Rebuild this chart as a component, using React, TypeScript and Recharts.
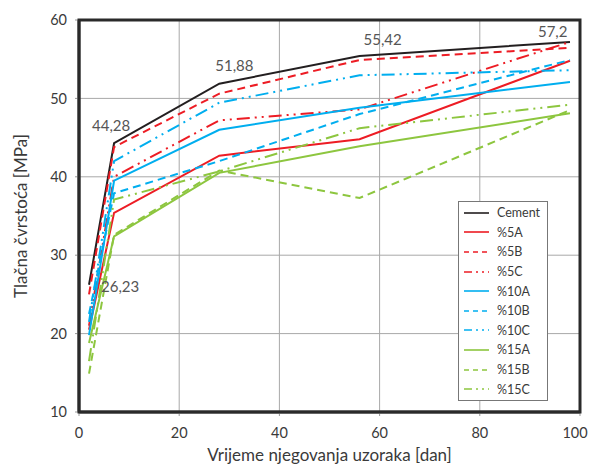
import React from 'react';
import {
  LineChart, Line, XAxis, YAxis, CartesianGrid, LabelList, Label
} from 'recharts';

// curing age in days
const days = [2, 7, 28, 56, 98];

const cement = [26.23, 44.28, 51.88, 55.42, 57.2];
const s5A = [20.5, 35.4, 42.7, 44.8, 54.8];
const s5B = [25.0, 43.8, 50.6, 54.9, 56.45];
const s5C = [21.0, 40.0, 47.2, 48.6, 57.2];
const s10A = [19.8, 39.5, 46.0, 48.8, 52.1];
const s10B = [22.5, 37.9, 42.0, 48.0, 54.9];
const s10C = [21.5, 42.0, 49.45, 52.95, 53.6];
const s15A = [18.8, 32.4, 40.5, 43.9, 48.1];
const s15B = [14.9, 32.6, 40.8, 37.3, 48.5];
const s15C = [16.5, 37.1, 40.7, 46.2, 49.2];

const xTicks = [0, 20, 40, 60, 80, 100];
const yTicks = [10, 20, 30, 40, 50, 60];

const RED = '#ed1c24';
const BLUE = '#00aeef';
const GREEN = '#8dc63f';
const DASH = '8 5';
const DASHDOT = '13 5 2 5 2 5';

const series = [
  { key: 'cement', name: 'Cement', values: cement, color: '#231f20', dash: undefined },
  { key: 's5A', name: '%5A', values: s5A, color: RED, dash: undefined },
  { key: 's5B', name: '%5B', values: s5B, color: RED, dash: DASH },
  { key: 's5C', name: '%5C', values: s5C, color: RED, dash: DASHDOT },
  { key: 's10A', name: '%10A', values: s10A, color: BLUE, dash: undefined },
  { key: 's10B', name: '%10B', values: s10B, color: BLUE, dash: DASH },
  { key: 's10C', name: '%10C', values: s10C, color: BLUE, dash: DASHDOT },
  { key: 's15A', name: '%15A', values: s15A, color: GREEN, dash: undefined },
  { key: 's15B', name: '%15B', values: s15B, color: GREEN, dash: DASH },
  { key: 's15C', name: '%15C', values: s15C, color: GREEN, dash: DASHDOT },
];

const data = days.map((d, i) => {
  const row: Record<string, number> = { day: d };
  series.forEach((s) => { row[s.key] = s.values[i]; });
  return row;
});

const FONT = 'Lato, "Open Sans", sans-serif';
const TEXT = '#3a3a3a';
const FRAME = '#2a2a2a';

// offsets of the cement value labels, one per point
const labelOffsets = [
  { dx: 12, dy: 7 },
  { dx: -22, dy: -12 },
  { dx: -4, dy: -13 },
  { dx: 4, dy: -11 },
  { dx: -32, dy: -5 },
];

const CementLabel = (props: any) => {
  const { x, y, value, index } = props;
  const o = labelOffsets[index];
  return (
    <text x={x + o.dx} y={y + o.dy} fill="#555" fontSize={15} fontFamily={FONT} textAnchor="start">
      {String(value).replace('.', ',')}
    </text>
  );
};

const XTick = (props: any) => {
  const { x, y, payload } = props;
  const shift = payload.value === 100 ? -4 : 0;
  return (
    <text x={x + shift} y={y + 10} fill={TEXT} fontSize={14.5} fontFamily={FONT} textAnchor="middle">
      {payload.value}
    </text>
  );
};

const LegendBox = () => (
  <div style={{
    position: 'absolute', left: 458, top: 201, width: 88, zIndex: 3,
    border: '1px solid #777', background: '#fff', padding: '1px 0 1px 0',
    fontFamily: FONT, fontSize: 12.5, color: TEXT,
  }}>
    {series.map((s) => (
      <div key={s.key} style={{ display: 'flex', alignItems: 'center', height: 19.6 }}>
        <svg width={34} height={10} style={{ marginLeft: 4 }}>
          <line x1={1} y1={5} x2={26} y2={5} stroke={s.color} strokeWidth={1.6}
            strokeDasharray={s.dash ? (s.dash === DASH ? '5 4' : '8 4 2 4 2 4') : undefined} />
        </svg>
        <span>{s.name}</span>
      </div>
    ))}
  </div>
);

export default function App() {
  return (
    <div style={{ position: 'absolute', left: 0, top: 0, width: 591, height: 473, background: '#fff' }}>
      <LineChart width={591} height={473} data={data} margin={{ top: 20, right: 11, left: 19, bottom: 12 }}>
        <CartesianGrid stroke="#a8a8a8" strokeWidth={1} />
        <XAxis
          dataKey="day" type="number" domain={[0, 100]} ticks={xTicks}
          axisLine={{ stroke: '#444', strokeWidth: 3 }} tickLine={{ stroke: '#999' }} tickSize={4}
          tick={<XTick />} height={49} tickMargin={12}
        >
          <Label value="Vrijeme njegovanja uzoraka [dan]" position="insideBottom" offset={0}
            style={{ fill: TEXT, fontSize: 17, fontFamily: FONT }} />
        </XAxis>
        <YAxis
          type="number" domain={[10, 60]} ticks={yTicks} width={60}
          axisLine={{ stroke: '#444', strokeWidth: 3 }} tickLine={{ stroke: '#999' }} tickSize={4}
          tick={{ fill: TEXT, fontSize: 14.5, fontFamily: FONT }} tickMargin={8}
        >
          <Label value="Tlačna čvrstoća [MPa]" angle={-90} position="insideLeft" offset={2}
            style={{ fill: TEXT, fontSize: 17, fontFamily: FONT, textAnchor: 'middle' }} />
        </YAxis>
        {series.map((s) => (
          <Line
            key={s.key} dataKey={s.key} name={s.name} type="linear" stroke={s.color}
            strokeWidth={2} strokeDasharray={s.dash} dot={false} isAnimationActive={false}
          >
            {s.key === 'cement' ? <LabelList dataKey="cement" content={CementLabel} /> : null}
          </Line>
        ))}
      </LineChart>
      {/* plot frame, drawn over the chart */}
      <svg width={591} height={473} viewBox="0 0 591 473"
        style={{ position: 'absolute', left: 0, top: 0, zIndex: 2, pointerEvents: 'none', overflow: 'visible' }}>
        <rect x={79} y={20} width={501} height={392} fill="none" stroke={FRAME} strokeWidth={3} />
      </svg>
      <LegendBox />
    </div>
  );
}
